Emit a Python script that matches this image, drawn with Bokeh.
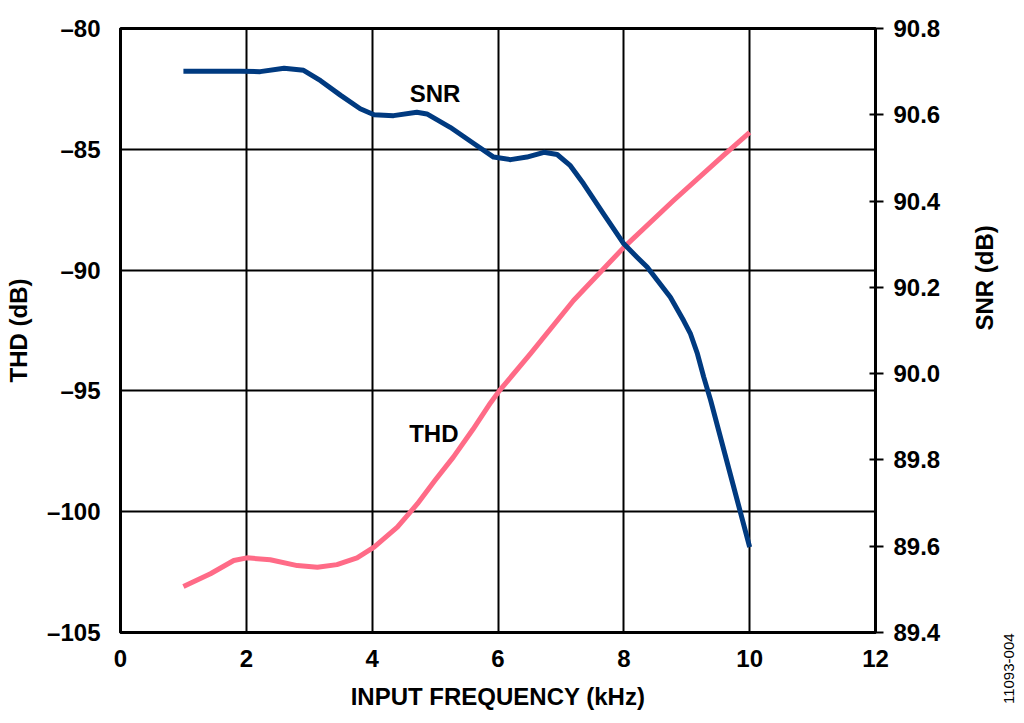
from bokeh.plotting import figure
from bokeh.models import Range1d, LinearAxis, FixedTicker, Label
from bokeh.embed import file_html
from bokeh.resources import INLINE
import math

# ---- data ----
snr_freq = [1.0, 1.5, 1.91, 2.22, 2.6, 2.91, 3.18, 3.5, 3.81, 4.03, 4.34, 4.71, 4.87,
            5.24, 5.62, 5.93, 6.2, 6.46, 6.73, 6.94, 7.15, 7.36, 7.68, 8.0, 8.21, 8.37,
            8.74, 8.95, 9.06, 9.17, 9.27, 9.38, 9.69, 10.0]
snr_db = [90.701, 90.701, 90.701, 90.700, 90.708, 90.703, 90.679, 90.645, 90.614, 90.600,
          90.598, 90.606, 90.602, 90.571, 90.533, 90.502, 90.496, 90.502, 90.513, 90.508,
          90.482, 90.440, 90.370, 90.301, 90.270, 90.247, 90.177, 90.123, 90.092, 90.046,
          89.992, 89.938, 89.768, 89.598]

thd_freq = [1.0, 1.43, 1.8, 2.01, 2.38, 2.81, 3.13, 3.44, 3.76, 4.03, 4.4, 4.72, 5.0,
            5.29, 5.6, 5.88, 6.02, 6.52, 7.2, 8.0, 8.79, 9.58, 10.0]
thd_db = [-103.10, -102.57, -102.02, -101.91, -101.99, -102.23, -102.30, -102.19, -101.91,
          -101.47, -100.64, -99.67, -98.70, -97.74, -96.6, -95.5, -95.0, -93.45, -91.26,
          -89.06, -87.12, -85.26, -84.30]

x_ticks = [0, 2, 4, 6, 8, 10, 12]
thd_ticks = [-105, -100, -95, -90, -85, -80]
thd_tick_labels = ["\u2013105", "\u2013100", "\u201395", "\u201390", "\u201385", "\u201380"]
snr_ticks = [89.4, 89.6, 89.8, 90.0, 90.2, 90.4, 90.6, 90.8]
snr_tick_labels = ["89.4", "89.6", "89.8", "90.0", "90.2", "90.4", "90.6", "90.8"]

FONT = "Liberation Sans"
FS = "24px"
SNR_COLOR = "#003A80"
THD_COLOR = "#FF6B87"

p = figure(width=1024, height=720, output_backend="svg", toolbar_location=None,
           x_range=Range1d(0, 12), y_range=Range1d(-105, -80),
           min_border_left=120, min_border_right=149, min_border_top=28,
           min_border_bottom=88)
p.extra_y_ranges = {"snr": Range1d(89.4, 90.8)}

p.outline_line_color = "black"
p.outline_line_width = 3
p.background_fill_color = "white"
p.border_fill_color = "white"

# grids
p.xgrid.ticker = FixedTicker(ticks=x_ticks)
p.ygrid.ticker = FixedTicker(ticks=thd_ticks)
for g in (p.xgrid, p.ygrid):
    g.grid_line_color = "black"
    g.grid_line_width = 2
    g.grid_line_alpha = 1.0

# bottom axis
xa = p.xaxis[0]
xa.ticker = FixedTicker(ticks=x_ticks)
xa.axis_label = "INPUT FREQUENCY (kHz)"

# left axis
ya = p.yaxis[0]
ya.ticker = FixedTicker(ticks=thd_ticks)
ya.major_label_overrides = {t: l for t, l in zip(thd_ticks, thd_tick_labels)}
ya.axis_label = "THD (dB)"

for ax in (xa, ya):
    ax.major_tick_line_color = None
    ax.minor_tick_line_color = None
    ax.axis_line_color = "black"
    ax.axis_line_width = 3

xa.major_label_standoff = 11
ya.major_label_standoff = 14
xa.axis_label_standoff = 13
ya.axis_label_standoff = 12

# right axis
ra = LinearAxis(y_range_name="snr", ticker=FixedTicker(ticks=snr_ticks),
                axis_label="SNR (dB)")
ra.major_label_overrides = {t: l for t, l in zip(snr_ticks, snr_tick_labels)}
ra.major_tick_in = 6
ra.major_tick_out = 8
ra.major_tick_line_width = 2
ra.major_tick_line_color = "black"
ra.minor_tick_line_color = None
ra.axis_line_color = "black"
ra.axis_line_width = 3
ra.major_label_standoff = 10
ra.axis_label_standoff = 41
ra.axis_label_orientation = math.pi / 2
p.add_layout(ra, "right")

for ax in (xa, ya, ra):
    ax.major_label_text_font = FONT
    ax.major_label_text_font_size = FS
    ax.major_label_text_font_style = "bold"
    ax.major_label_text_color = "black"
    ax.axis_label_text_font = FONT
    ax.axis_label_text_font_size = FS
    ax.axis_label_text_font_style = "bold"
    ax.axis_label_text_color = "black"

# curves
p.line(thd_freq, thd_db, line_color=THD_COLOR, line_width=5, line_join="round",
       line_cap="butt")
p.line(snr_freq, snr_db, line_color=SNR_COLOR, line_width=5, y_range_name="snr",
       line_join="round", line_cap="butt")

# curve labels
p.add_layout(Label(x=5.0, y=-82.7, text="SNR", text_align="center", text_baseline="middle",
                   text_font=FONT, text_font_size=FS, text_font_style="bold",
                   text_color="black"))
p.add_layout(Label(x=4.98, y=-96.76, text="THD", text_align="center", text_baseline="middle",
                   text_font=FONT, text_font_size=FS, text_font_style="bold",
                   text_color="black"))
# figure number (placed in a side panel so that it is not clipped to the frame)
fig_no = Label(x=14.12, y=-106.5, text="11093-004", angle=math.pi / 2,
               text_align="center", text_baseline="middle", text_line_height=0.3,
               text_font=FONT, text_font_size="15px", text_color="black")
p.add_layout(fig_no, "right")

open("out.html", "w").write(file_html(p, INLINE))
